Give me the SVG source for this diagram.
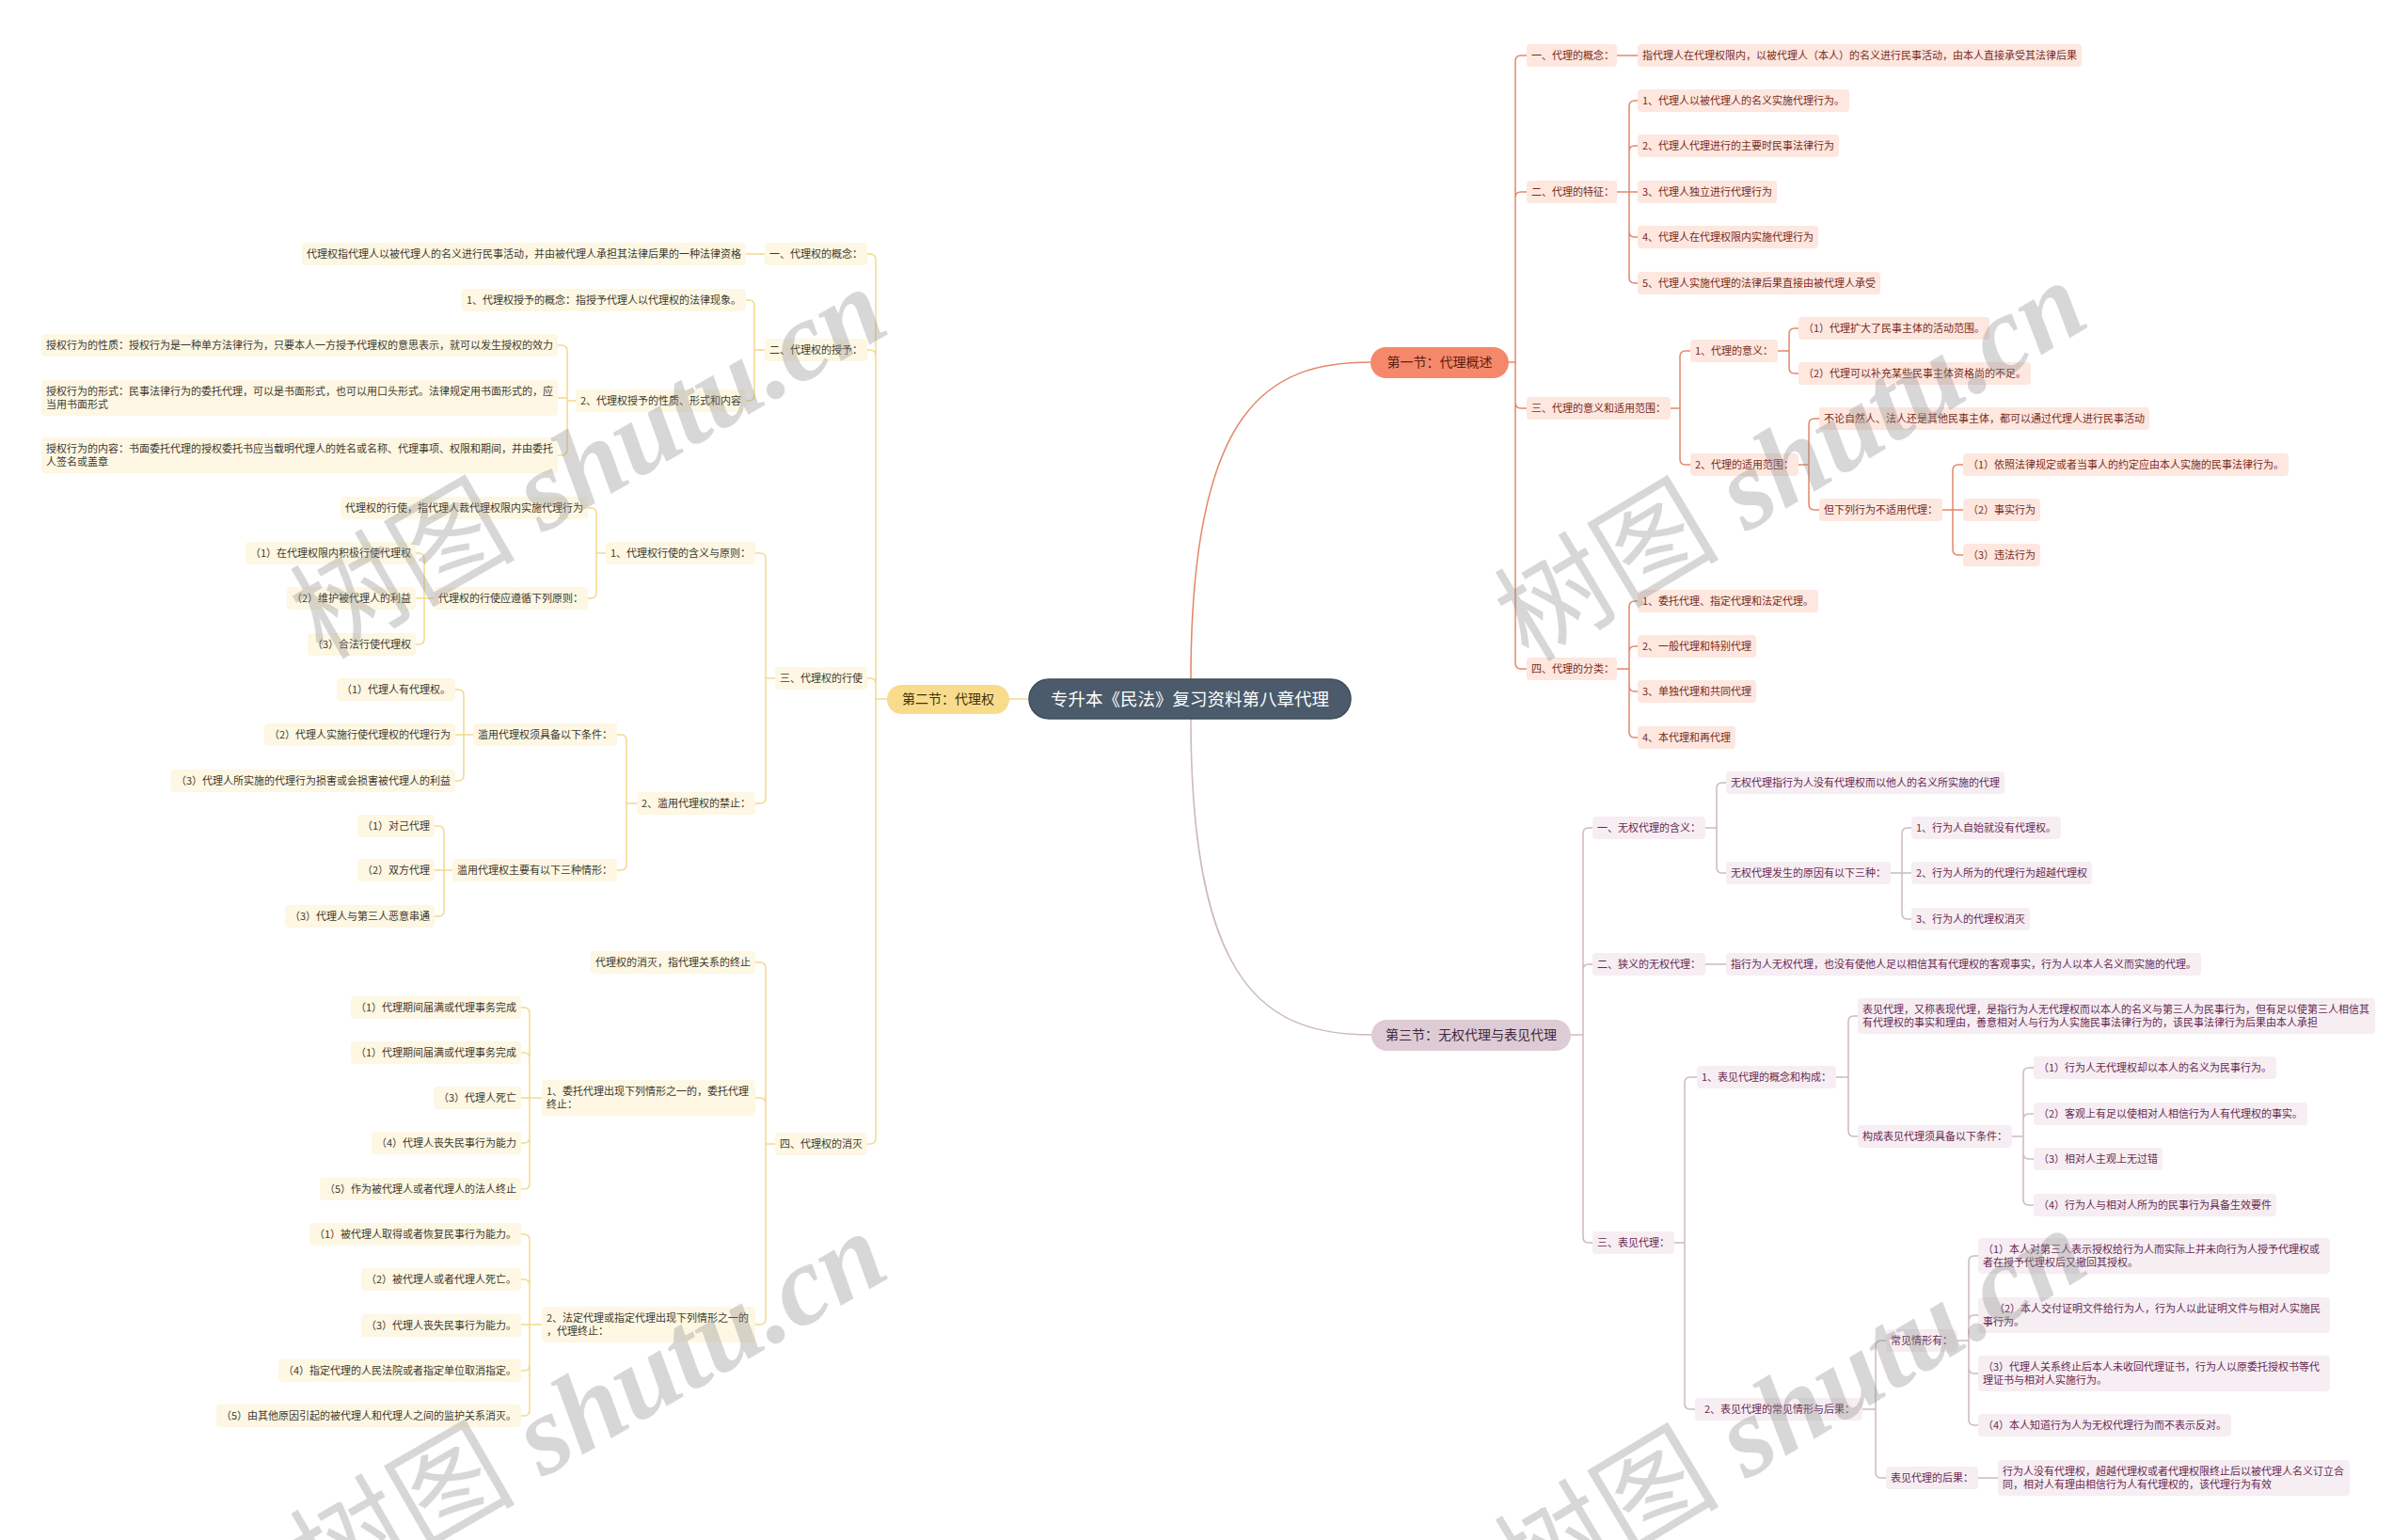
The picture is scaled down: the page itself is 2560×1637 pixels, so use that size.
<svg xmlns="http://www.w3.org/2000/svg" width="2560" height="1637" viewBox="0 0 2560 1637">
<style>
text{font-family:"Noto Sans CJK SC","Noto Sans",sans-serif;font-size:11px;}
.n1 rect{fill:#fde7df;} .n1 text{fill:#7b2d1c;}
.n2 rect{fill:#fdf7e3;} .n2 text{fill:#3d3a30;}
.n3 rect{fill:#f6eef2;} .n3 text{fill:#6a2a52;}
.c1{fill:none;stroke:#e4876a;stroke-width:1.5;}
.c2{fill:none;stroke:#f3d98b;stroke-width:1.5;}
.c3{fill:none;stroke:#cdb8c4;stroke-width:1.5;}
.sec text{font-size:14px;text-anchor:middle;}
.wm{font-size:120px;fill:#8c8c8c;fill-opacity:0.35;}
.wm .lat{font-family:"Liberation Serif",serif;font-style:italic;font-weight:bold;}
</style>
<rect width="2560" height="1637" fill="#ffffff"/>
<g id="connectors">
<path class="c1" d="M1266 722 C1266 430 1350 385 1457 385"/>
<path class="c3" d="M1266 764 C1266 1055 1350 1100 1458 1100"/>
<path class="c2" d="M1094 743 H1073"/>
<path class="c1" d="M1604 385 H1611 V65 Q1611 59 1617 59 H1623 M1604 385 H1611 V210 Q1611 204 1617 204 H1623 M1604 385 H1611 V428 Q1611 434 1617 434 H1623 M1604 385 H1611 V705 Q1611 711 1617 711 H1623"/>
<path class="c1" d="M1719 59 H1741"/>
<path class="c1" d="M1719 204 H1732 V113 Q1732 107 1738 107 H1741 M1719 204 H1732 V161 Q1732 155 1738 155 H1741 M1719 204 H1741 M1719 204 H1732 V246 Q1732 252 1738 252 H1741 M1719 204 H1732 V295 Q1732 301 1738 301 H1741"/>
<path class="c1" d="M1776 434 H1786 V379 Q1786 373 1792 373 H1797 M1776 434 H1786 V488 Q1786 494 1792 494 H1797"/>
<path class="c1" d="M1890 373 H1902 V355 Q1902 349 1908 349 H1912 M1890 373 H1902 V391 Q1902 397 1908 397 H1912"/>
<path class="c1" d="M1912 494 H1923 V451 Q1923 445 1929 445 H1934 M1912 494 H1923 V536 Q1923 542 1929 542 H1934"/>
<path class="c1" d="M2065 542 H2076 V500 Q2076 494 2082 494 H2087 M2065 542 H2087 M2065 542 H2076 V584 Q2076 590 2082 590 H2087"/>
<path class="c1" d="M1719 711 H1732 V645 Q1732 639 1738 639 H1741 M1719 711 H1732 V693 Q1732 687 1738 687 H1741 M1719 711 H1732 V729 Q1732 735 1738 735 H1741 M1719 711 H1732 V778 Q1732 784 1738 784 H1741"/>
<path class="c3" d="M1670 1100 H1683 V886 Q1683 880 1689 880 H1693 M1670 1100 H1683 V1031 Q1683 1025 1689 1025 H1693 M1670 1100 H1683 V1315 Q1683 1321 1689 1321 H1693"/>
<path class="c3" d="M1813 880 H1825 V838 Q1825 832 1831 832 H1835 M1813 880 H1825 V922 Q1825 928 1831 928 H1835"/>
<path class="c3" d="M2010 928 H2022 V886 Q2022 880 2028 880 H2032 M2010 928 H2032 M2010 928 H2022 V971 Q2022 977 2028 977 H2032"/>
<path class="c3" d="M1813 1025 H1835"/>
<path class="c3" d="M1780 1321 H1791 V1151 Q1791 1145 1797 1145 H1804 M1780 1321 H1791 V1492 Q1791 1498 1797 1498 H1802"/>
<path class="c3" d="M1952 1145 H1965 V1086 Q1965 1080 1971 1080 H1975 M1952 1145 H1965 V1202 Q1965 1208 1971 1208 H1975"/>
<path class="c3" d="M2139 1208 H2151 V1141 Q2151 1135 2157 1135 H2162 M2139 1208 H2151 V1190 Q2151 1184 2157 1184 H2162 M2139 1208 H2151 V1226 Q2151 1232 2157 1232 H2162 M2139 1208 H2151 V1275 Q2151 1281 2157 1281 H2162"/>
<path class="c3" d="M1980 1498 H1994 V1431 Q1994 1425 2000 1425 H2005 M1980 1498 H1994 V1565 Q1994 1571 2000 1571 H2005"/>
<path class="c3" d="M2081 1425 H2093 V1341 Q2093 1335 2099 1335 H2103 M2081 1425 H2093 V1404 Q2093 1398 2099 1398 H2103 M2081 1425 H2093 V1454 Q2093 1460 2099 1460 H2103 M2081 1425 H2093 V1509 Q2093 1515 2099 1515 H2103"/>
<path class="c3" d="M2103 1571 H2124"/>
<path class="c2" d="M943 743 H931 V276 Q931 270 925 270 H922 M943 743 H931 V378 Q931 372 925 372 H922 M943 743 H931 V727 Q931 721 925 721 H922 M943 743 H931 V1210 Q931 1216 925 1216 H922"/>
<path class="c2" d="M813 270 H793"/>
<path class="c2" d="M813 372 H802 V325 Q802 319 796 319 H793 M813 372 H802 V420 Q802 426 796 426 H793"/>
<path class="c2" d="M612 426 H603 V373 Q603 367 597 367 H593 M612 426 H603 V423 H593 M612 426 H603 V478 Q603 484 597 484 H593"/>
<path class="c2" d="M824 721 H814 V594 Q814 588 808 588 H803 M824 721 H814 V848 Q814 854 808 854 H803"/>
<path class="c2" d="M644 588 H634 V546 Q634 540 628 540 H625 M644 588 H634 V630 Q634 636 628 636 H625"/>
<path class="c2" d="M461 636 H451 V594 Q451 588 445 588 H442 M461 636 H442 M461 636 H451 V679 Q451 685 445 685 H442"/>
<path class="c2" d="M677 854 H666 V787 Q666 781 660 781 H656 M677 854 H666 V919 Q666 925 660 925 H656"/>
<path class="c2" d="M503 781 H493 V739 Q493 733 487 733 H484 M503 781 H484 M503 781 H493 V824 Q493 830 487 830 H484"/>
<path class="c2" d="M481 925 H472 V884 Q472 878 466 878 H462 M481 925 H462 M481 925 H472 V968 Q472 974 466 974 H462"/>
<path class="c2" d="M824 1216 H814 V1029 Q814 1023 808 1023 H803 M824 1216 H814 V1173 Q814 1167 808 1167 H803 M824 1216 H814 V1402 Q814 1408 808 1408 H803"/>
<path class="c2" d="M576 1167 H563 V1077 Q563 1071 557 1071 H554 M576 1167 H563 V1125 Q563 1119 557 1119 H554 M576 1167 H554 M576 1167 H563 V1209 Q563 1215 557 1215 H554 M576 1167 H563 V1258 Q563 1264 557 1264 H554"/>
<path class="c2" d="M576 1408 H563 V1318 Q563 1312 557 1312 H554 M576 1408 H563 V1366 Q563 1360 557 1360 H554 M576 1408 H554 M576 1408 H563 V1451 Q563 1457 557 1457 H554 M576 1408 H563 V1499 Q563 1505 557 1505 H554"/>
</g>
<g id="root"><rect x="1094" y="722" width="342" height="42" rx="21" fill="#4b5b6b" stroke="#3e4c5a" stroke-width="1.5"/><text x="1265" y="750" text-anchor="middle" fill="#ffffff" style="font-size:18.5px">专升本《民法》复习资料第八章代理</text></g>
<g id="sec1" class="sec"><rect x="1457" y="369" width="147" height="33" rx="16.5" fill="#f5886a"/><text x="1530.5" y="390" fill="#5a2010">第一节：代理概述</text></g>
<g id="sec2" class="sec"><rect x="943" y="728" width="130" height="31" rx="15.5" fill="#f8dc8c"/><text x="1008" y="748" fill="#3e3210">第二节：代理权</text></g>
<g id="sec3" class="sec"><rect x="1458" y="1084" width="212" height="33" rx="16.5" fill="#ddcbd5"/><text x="1564" y="1105" fill="#43283a">第三节：无权代理与表见代理</text></g>

<g id="n1-1" class="n1"><rect x="1623" y="47" width="96" height="24" rx="4"/><text x="1628" y="63">一、代理的概念：</text></g>
<g id="n1-1-1" class="n1"><rect x="1741" y="47" width="472" height="24" rx="4"/><text x="1746" y="63">指代理人在代理权限内，以被代理人（本人）的名义进行民事活动，由本人直接承受其法律后果</text></g>
<g id="n1-2" class="n1"><rect x="1623" y="192" width="96" height="24" rx="4"/><text x="1628" y="208">二、代理的特征：</text></g>
<g id="n1-2-1" class="n1"><rect x="1741" y="95" width="225" height="24" rx="4"/><text x="1746" y="111">1、代理人以被代理人的名义实施代理行为。</text></g>
<g id="n1-2-2" class="n1"><rect x="1741" y="143" width="214" height="24" rx="4"/><text x="1746" y="159">2、代理人代理进行的主要时民事法律行为</text></g>
<g id="n1-2-3" class="n1"><rect x="1741" y="192" width="148" height="24" rx="4"/><text x="1746" y="208">3、代理人独立进行代理行为</text></g>
<g id="n1-2-4" class="n1"><rect x="1741" y="240" width="192" height="24" rx="4"/><text x="1746" y="256">4、代理人在代理权限内实施代理行为</text></g>
<g id="n1-2-5" class="n1"><rect x="1741" y="289" width="258" height="24" rx="4"/><text x="1746" y="305">5、代理人实施代理的法律后果直接由被代理人承受</text></g>
<g id="n1-3" class="n1"><rect x="1623" y="422" width="153" height="24" rx="4"/><text x="1628" y="438">三、代理的意义和适用范围：</text></g>
<g id="n1-3-1" class="n1"><rect x="1797" y="361" width="93" height="24" rx="4"/><text x="1802" y="377">1、代理的意义：</text></g>
<g id="n1-3-1-1" class="n1"><rect x="1912" y="337" width="203" height="24" rx="4"/><text x="1917" y="353">（1）代理扩大了民事主体的活动范围。</text></g>
<g id="n1-3-1-2" class="n1"><rect x="1912" y="385" width="247" height="24" rx="4"/><text x="1917" y="401">（2）代理可以补充某些民事主体资格尚的不足。</text></g>
<g id="n1-3-2" class="n1"><rect x="1797" y="482" width="115" height="24" rx="4"/><text x="1802" y="498">2、代理的适用范围：</text></g>
<g id="n1-3-2-1" class="n1"><rect x="1934" y="433" width="351" height="24" rx="4"/><text x="1939" y="449">不论自然人、法人还是其他民事主体，都可以通过代理人进行民事活动</text></g>
<g id="n1-3-2-2" class="n1"><rect x="1934" y="530" width="131" height="24" rx="4"/><text x="1939" y="546">但下列行为不适用代理：</text></g>
<g id="n1-3-2-2-1" class="n1"><rect x="2087" y="482" width="346" height="24" rx="4"/><text x="2092" y="498">（1）依照法律规定或者当事人的约定应由本人实施的民事法律行为。</text></g>
<g id="n1-3-2-2-2" class="n1"><rect x="2087" y="530" width="82" height="24" rx="4"/><text x="2092" y="546">（2）事实行为</text></g>
<g id="n1-3-2-2-3" class="n1"><rect x="2087" y="578" width="82" height="24" rx="4"/><text x="2092" y="594">（3）违法行为</text></g>
<g id="n1-4" class="n1"><rect x="1623" y="699" width="96" height="24" rx="4"/><text x="1628" y="715">四、代理的分类：</text></g>
<g id="n1-4-1" class="n1"><rect x="1741" y="627" width="192" height="24" rx="4"/><text x="1746" y="643">1、委托代理、指定代理和法定代理。</text></g>
<g id="n1-4-2" class="n1"><rect x="1741" y="675" width="126" height="24" rx="4"/><text x="1746" y="691">2、一般代理和特别代理</text></g>
<g id="n1-4-3" class="n1"><rect x="1741" y="723" width="126" height="24" rx="4"/><text x="1746" y="739">3、单独代理和共同代理</text></g>
<g id="n1-4-4" class="n1"><rect x="1741" y="772" width="104" height="24" rx="4"/><text x="1746" y="788">4、本代理和再代理</text></g>

<g id="n3-1" class="n3"><rect x="1693" y="868" width="120" height="24" rx="4"/><text x="1698" y="884">一、无权代理的含义：</text></g>
<g id="n3-1-1" class="n3"><rect x="1835" y="820" width="296" height="24" rx="4"/><text x="1840" y="836">无权代理指行为人没有代理权而以他人的名义所实施的代理</text></g>
<g id="n3-1-2" class="n3"><rect x="1835" y="916" width="175" height="24" rx="4"/><text x="1840" y="932">无权代理发生的原因有以下三种：</text></g>
<g id="n3-1-2-1" class="n3"><rect x="2032" y="868" width="159" height="24" rx="4"/><text x="2037" y="884">1、行为人自始就没有代理权。</text></g>
<g id="n3-1-2-2" class="n3"><rect x="2032" y="916" width="192" height="24" rx="4"/><text x="2037" y="932">2、行为人所为的代理行为超越代理权</text></g>
<g id="n3-1-2-3" class="n3"><rect x="2032" y="965" width="126" height="24" rx="4"/><text x="2037" y="981">3、行为人的代理权消灭</text></g>
<g id="n3-2" class="n3"><rect x="1693" y="1013" width="120" height="24" rx="4"/><text x="1698" y="1029">二、狭义的无权代理：</text></g>
<g id="n3-2-1" class="n3"><rect x="1835" y="1013" width="505" height="24" rx="4"/><text x="1840" y="1029">指行为人无权代理，也没有使他人足以相信其有代理权的客观事实，行为人以本人名义而实施的代理。</text></g>
<g id="n3-3" class="n3"><rect x="1693" y="1309" width="87" height="24" rx="4"/><text x="1698" y="1325">三、表见代理：</text></g>
<g id="n3-3-1" class="n3"><rect x="1804" y="1133" width="148" height="24" rx="4"/><text x="1809" y="1149">1、表见代理的概念和构成：</text></g>
<g id="n3-3-1-1" class="n3"><rect x="1975" y="1061" width="550" height="38" rx="4"/><text x="1980" y="1077">表见代理，又称表现代理，是指行为人无代理权而以本人的名义与第三人为民事行为，但有足以使第三人相信其<tspan x="1980" y="1091">有代理权的事实和理由，善意相对人与行为人实施民事法律行为的，该民事法律行为后果由本人承担</tspan></text></g>
<g id="n3-3-1-2" class="n3"><rect x="1975" y="1196" width="164" height="24" rx="4"/><text x="1980" y="1212">构成表见代理须具备以下条件：</text></g>
<g id="n3-3-1-2-1" class="n3"><rect x="2162" y="1123" width="258" height="24" rx="4"/><text x="2167" y="1139">（1）行为人无代理权却以本人的名义为民事行为。</text></g>
<g id="n3-3-1-2-2" class="n3"><rect x="2162" y="1172" width="291" height="24" rx="4"/><text x="2167" y="1188">（2）客观上有足以使相对人相信行为人有代理权的事实。</text></g>
<g id="n3-3-1-2-3" class="n3"><rect x="2162" y="1220" width="137" height="24" rx="4"/><text x="2167" y="1236">（3）相对人主观上无过错</text></g>
<g id="n3-3-1-2-4" class="n3"><rect x="2162" y="1269" width="258" height="24" rx="4"/><text x="2167" y="1285">（4）行为人与相对人所为的民事行为具备生效要件</text></g>
<g id="n3-3-2" class="n3"><rect x="1802" y="1486" width="178" height="24" rx="4"/><text x="1812" y="1502">2、表见代理的常见情形与后果：</text></g>
<g id="n3-3-2-1" class="n3"><rect x="2005" y="1413" width="76" height="24" rx="4"/><text x="2010" y="1429">常见情形有：</text></g>
<g id="n3-3-2-1-1" class="n3"><rect x="2103" y="1316" width="374" height="38" rx="4"/><text x="2108" y="1332">（1）本人对第三人表示授权给行为人而实际上并未向行为人授予代理权或<tspan x="2108" y="1346">者在授予代理权后又撤回其授权。</tspan></text></g>
<g id="n3-3-2-1-2" class="n3"><rect x="2103" y="1379" width="374" height="38" rx="4"/><text x="2120" y="1395">（2）本人交付证明文件给行为人，行为人以此证明文件与相对人实施民<tspan x="2108" y="1409">事行为。</tspan></text></g>
<g id="n3-3-2-1-3" class="n3"><rect x="2103" y="1441" width="374" height="38" rx="4"/><text x="2108" y="1457">（3）代理人关系终止后本人未收回代理证书，行为人以原委托授权书等代<tspan x="2108" y="1471">理证书与相对人实施行为。</tspan></text></g>
<g id="n3-3-2-1-4" class="n3"><rect x="2103" y="1503" width="269" height="24" rx="4"/><text x="2108" y="1519">（4）本人知道行为人为无权代理行为而不表示反对。</text></g>
<g id="n3-3-2-2" class="n3"><rect x="2005" y="1559" width="98" height="24" rx="4"/><text x="2010" y="1575">表见代理的后果：</text></g>
<g id="n3-3-2-2-1" class="n3"><rect x="2124" y="1552" width="374" height="38" rx="4"/><text x="2129" y="1568">行为人没有代理权，超越代理权或者代理权限终止后以被代理人名义订立合<tspan x="2129" y="1582">同，相对人有理由相信行为人有代理权的，该代理行为有效</tspan></text></g>

<g id="n2-1" class="n2"><rect x="813" y="258" width="109" height="24" rx="4"/><text x="818" y="274">一、代理权的概念：</text></g>
<g id="n2-1-1" class="n2"><rect x="321" y="258" width="472" height="24" rx="4"/><text x="326" y="274">代理权指代理人以被代理人的名义进行民事活动，并由被代理人承担其法律后果的一种法律资格</text></g>
<g id="n2-2" class="n2"><rect x="813" y="360" width="109" height="24" rx="4"/><text x="818" y="376">二、代理权的授予：</text></g>
<g id="n2-2-1" class="n2"><rect x="491" y="307" width="302" height="24" rx="4"/><text x="496" y="323">1、代理权授予的概念：指授予代理人以代理权的法律现象。</text></g>
<g id="n2-2-2" class="n2"><rect x="612" y="414" width="181" height="24" rx="4"/><text x="617" y="430">2、代理权授予的性质、形式和内容</text></g>
<g id="n2-2-2-1" class="n2"><rect x="44" y="355" width="549" height="24" rx="4"/><text x="49" y="371">授权行为的性质：授权行为是一种单方法律行为，只要本人一方授予代理权的意思表示，就可以发生授权的效力</text></g>
<g id="n2-2-2-2" class="n2"><rect x="44" y="404" width="549" height="38" rx="4"/><text x="49" y="420">授权行为的形式：民事法律行为的委托代理，可以是书面形式，也可以用口头形式。法律规定用书面形式的，应<tspan x="49" y="434">当用书面形式</tspan></text></g>
<g id="n2-2-2-3" class="n2"><rect x="44" y="465" width="549" height="38" rx="4"/><text x="49" y="481">授权行为的内容：书面委托代理的授权委托书应当载明代理人的姓名或名称、代理事项、权限和期间，并由委托<tspan x="49" y="495">人签名或盖章</tspan></text></g>
<g id="n2-3" class="n2"><rect x="824" y="709" width="98" height="24" rx="4"/><text x="829" y="725">三、代理权的行使</text></g>
<g id="n2-3-1" class="n2"><rect x="644" y="576" width="159" height="24" rx="4"/><text x="649" y="592">1、代理权行使的含义与原则：</text></g>
<g id="n2-3-1-1" class="n2"><rect x="362" y="528" width="263" height="24" rx="4"/><text x="367" y="544">代理权的行使，指代理人裁代理权限内实施代理行为</text></g>
<g id="n2-3-1-2" class="n2"><rect x="461" y="624" width="164" height="24" rx="4"/><text x="466" y="640">代理权的行使应遵循下列原则：</text></g>
<g id="n2-3-1-2-1" class="n2"><rect x="261" y="576" width="181" height="24" rx="4"/><text x="266" y="592">（1）在代理权限内积极行使代理权</text></g>
<g id="n2-3-1-2-2" class="n2"><rect x="305" y="624" width="137" height="24" rx="4"/><text x="310" y="640">（2）维护被代理人的利益</text></g>
<g id="n2-3-1-2-3" class="n2"><rect x="327" y="673" width="115" height="24" rx="4"/><text x="332" y="689">（3）合法行使代理权</text></g>
<g id="n2-3-2" class="n2"><rect x="677" y="842" width="126" height="24" rx="4"/><text x="682" y="858">2、滥用代理权的禁止：</text></g>
<g id="n2-3-2-1" class="n2"><rect x="503" y="769" width="153" height="24" rx="4"/><text x="508" y="785">滥用代理权须具备以下条件：</text></g>
<g id="n2-3-2-1-1" class="n2"><rect x="358" y="721" width="126" height="24" rx="4"/><text x="363" y="737">（1）代理人有代理权。</text></g>
<g id="n2-3-2-1-2" class="n2"><rect x="281" y="769" width="203" height="24" rx="4"/><text x="286" y="785">（2）代理人实施行使代理权的代理行为</text></g>
<g id="n2-3-2-1-3" class="n2"><rect x="182" y="818" width="302" height="24" rx="4"/><text x="187" y="834">（3）代理人所实施的代理行为损害或会损害被代理人的利益</text></g>
<g id="n2-3-2-2" class="n2"><rect x="481" y="913" width="175" height="24" rx="4"/><text x="486" y="929">滥用代理权主要有以下三种情形：</text></g>
<g id="n2-3-2-2-1" class="n2"><rect x="380" y="866" width="82" height="24" rx="4"/><text x="385" y="882">（1）对己代理</text></g>
<g id="n2-3-2-2-2" class="n2"><rect x="380" y="913" width="82" height="24" rx="4"/><text x="385" y="929">（2）双方代理</text></g>
<g id="n2-3-2-2-3" class="n2"><rect x="303" y="962" width="159" height="24" rx="4"/><text x="308" y="978">（3）代理人与第三人恶意串通</text></g>
<g id="n2-4" class="n2"><rect x="824" y="1204" width="98" height="24" rx="4"/><text x="829" y="1220">四、代理权的消灭</text></g>
<g id="n2-4-1" class="n2"><rect x="628" y="1011" width="175" height="24" rx="4"/><text x="633" y="1027">代理权的消灭，指代理关系的终止</text></g>
<g id="n2-4-2" class="n2"><rect x="576" y="1148" width="227" height="38" rx="4"/><text x="581" y="1164">1、委托代理出现下列情形之一的，委托代理<tspan x="581" y="1178">终止：</tspan></text></g>
<g id="n2-4-2-1" class="n2"><rect x="373" y="1059" width="181" height="24" rx="4"/><text x="378" y="1075">（1）代理期间届满或代理事务完成</text></g>
<g id="n2-4-2-2" class="n2"><rect x="373" y="1107" width="181" height="24" rx="4"/><text x="378" y="1123">（1）代理期间届满或代理事务完成</text></g>
<g id="n2-4-2-3" class="n2"><rect x="461" y="1155" width="93" height="24" rx="4"/><text x="466" y="1171">（3）代理人死亡</text></g>
<g id="n2-4-2-4" class="n2"><rect x="395" y="1203" width="159" height="24" rx="4"/><text x="400" y="1219">（4）代理人丧失民事行为能力</text></g>
<g id="n2-4-2-5" class="n2"><rect x="340" y="1252" width="214" height="24" rx="4"/><text x="345" y="1268">（5）作为被代理人或者代理人的法人终止</text></g>
<g id="n2-4-3" class="n2"><rect x="576" y="1389" width="227" height="38" rx="4"/><text x="581" y="1405">2、法定代理或指定代理出现下列情形之一的<tspan x="581" y="1419">，代理终止：</tspan></text></g>
<g id="n2-4-3-1" class="n2"><rect x="329" y="1300" width="225" height="24" rx="4"/><text x="334" y="1316">（1）被代理人取得或者恢复民事行为能力。</text></g>
<g id="n2-4-3-2" class="n2"><rect x="384" y="1348" width="170" height="24" rx="4"/><text x="389" y="1364">（2）被代理人或者代理人死亡。</text></g>
<g id="n2-4-3-3" class="n2"><rect x="384" y="1397" width="170" height="24" rx="4"/><text x="389" y="1413">（3）代理人丧失民事行为能力。</text></g>
<g id="n2-4-3-4" class="n2"><rect x="296" y="1445" width="258" height="24" rx="4"/><text x="301" y="1461">（4）指定代理的人民法院或者指定单位取消指定。</text></g>
<g id="n2-4-3-5" class="n2"><rect x="230" y="1493" width="324" height="24" rx="4"/><text x="235" y="1509">（5）由其他原因引起的被代理人和代理人之间的监护关系消灭。</text></g>

<g id="watermarks">
<text class="wm" transform="translate(343 702) rotate(-30)">树图<tspan class="lat"> shutu.cn</tspan></text>
<text class="wm" transform="translate(1625 705) rotate(-31)">树图<tspan class="lat"> shutu.cn</tspan></text>
<text class="wm" transform="translate(343 1706) rotate(-30)">树图<tspan class="lat"> shutu.cn</tspan></text>
<text class="wm" transform="translate(1625 1712) rotate(-31)">树图<tspan class="lat"> shutu.cn</tspan></text>
</g>
</svg>
